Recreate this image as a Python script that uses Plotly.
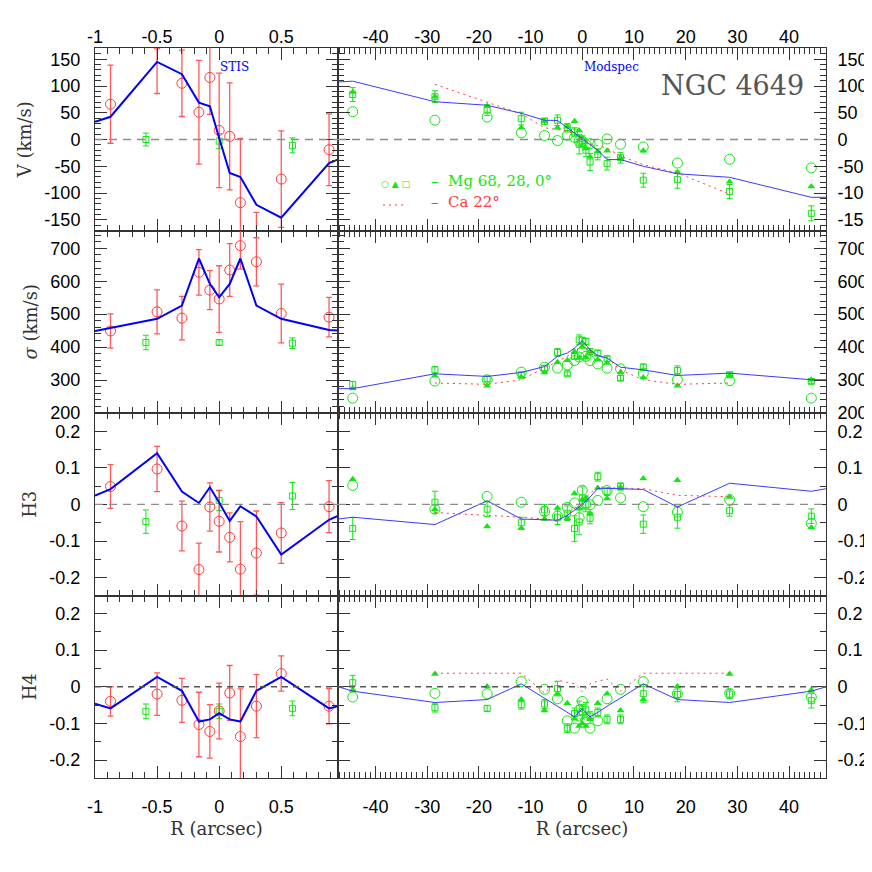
import plotly.graph_objects as go
from plotly.subplots import make_subplots

# ---------------- STIS (left column) ----------------
R_STIS_MODEL = [-1.0, -0.875, -0.5, -0.3, -0.163, -0.075, 0.0, 0.085, 0.171, 0.3, 0.5, 0.885, 0.96]
V_STIS_MODEL = [33, 42.5, 145, 122, 69, 62, 3, -62.5, -70, -122, -146, -44, -37]
S_STIS_MODEL = [449, 458, 486, 526, 669, 592, 551, 592, 669, 526, 486, 452, 450]
H3_STIS_MODEL = [0.024, 0.042, 0.14, 0.035, 0.004, 0.047, 0.005, -0.045, -0.005, -0.033, -0.137, -0.042, -0.031]
H4_STIS_MODEL = [-0.046, -0.059, 0.027, -0.011, -0.095, -0.089, -0.072, -0.089, -0.095, -0.011, 0.027, -0.059, -0.053]

R_STIS = [-0.875, -0.5, -0.3, -0.163, -0.075, 0.0, 0.085, 0.171, 0.3, 0.5, 0.885]
V_STIS = [66, 178, 105, 51, 116, 17, 6, -118, -192, -74, -19]
V_STIS_ERR = [73, 92, 62, 97, 69, 107, 100, 120, 56, 90, 67]
S_STIS = [449, 507, 488, 627, 573, 546, 634, 708, 659, 502, 491]
S_STIS_ERR = [52, 67, 66, 69, 59, 101, 80, 71, 73, 89, 60]
H3_STIS = [0.049, 0.097, -0.059, -0.178, -0.007, -0.046, -0.09, -0.177, -0.133, -0.078, -0.006]
H3_STIS_ERR = [0.06, 0.062, 0.068, 0.072, 0.066, 0.084, 0.067, 0.13, 0.115, 0.083, 0.071]
H4_STIS = [-0.040, -0.020, -0.037, -0.103, -0.122, -0.066, -0.017, -0.136, -0.053, 0.036, -0.053]
H4_STIS_ERR = [0.04, 0.058, 0.06, 0.088, 0.073, 0.076, 0.075, 0.13, 0.086, 0.048, 0.048]

R_GROUND_IN = [-0.59, 0.0, 0.59]
V_GROUND_IN = [0, -3, -11]
V_GROUND_IN_ERR = [12, 14, 14]
S_GROUND_IN = [414, 414, 412]
S_GROUND_IN_ERR = [22, 8, 16]
H3_GROUND_IN = [-0.047, 0.011, 0.023]
H3_GROUND_IN_ERR = [0.032, 0.028, 0.037]
H4_GROUND_IN = [-0.067, -0.067, -0.059]
H4_GROUND_IN_ERR = [0.02, 0.02, 0.02]

# ---------------- Modspec (right column) ----------------
R_MODEL = [-47.2, -44.4, -28.5, -18.4, -11.8, -7.3, -4.8, -2.9, -1.5, 0.0, 1.5, 3.0, 4.8, 7.4, 11.8, 18.4, 28.5, 44.3, 47.2]
V_MODEL = [107.5, 109, 70.6, 64, 49, 36, 35.6, 22, 12, 0, -10, -20, -37.5, -37.5, -50, -64, -70.6, -108, -108]
S_MODEL = [274, 274, 319, 311, 323, 341, 372, 382, 397, 420, 392, 374, 367, 339, 331, 314, 321, 301, 301]
H3_MODEL = [-0.040, -0.035, -0.055, 0.010, -0.040, -0.042, -0.043, -0.03, -0.015, 0.0, 0.02, 0.044, 0.044, 0.043, 0.041, -0.007, 0.058, 0.036, 0.043]
H4_MODEL = [0.0, -0.012, -0.043, -0.035, 0.008, -0.031, -0.053, -0.07, -0.082, -0.06, -0.082, -0.07, -0.053, -0.031, 0.008, -0.035, -0.043, -0.012, 0.0]

R_CA = [-28.5, -18.4, -11.8, -7.3, -4.8, -2.9, -1.5, 0.0, 1.5, 3.0, 4.8, 7.4, 11.8, 18.4, 28.5]
V_CA = [103, 70, 48, 22, 18, 16, 10, 0, -8, -12, -16, -31, -47, -62.5, -102]
S_CA = [291, 287, 301, 336, 355, 372, 385, 407, 385, 372, 367, 331, 301, 287, 291]
H3_CA = [-0.022, -0.029, -0.035, -0.04, -0.046, -0.03, -0.01, 0.01, 0.03, 0.049, 0.046, 0.045, 0.043, 0.025, 0.021]
H4_CA = [0.037, 0.037, 0.037, -0.017, 0.018, 0.012, 0.008, -0.014, 0.008, 0.015, 0.021, -0.012, 0.037, 0.037, 0.037]

R_MOD = [-44.4, -28.5, -18.4, -11.8, -7.3, -4.8, -2.9, -1.5, -0.6, 0.0, 0.7, 1.5, 3.0, 4.8, 7.4, 11.8, 18.4, 28.5, 44.3]
# Mg, PA 68 (open circles)
V_MG68 = [52, 36, 42, 12.5, 7.5, -2, 8, 4, -3, -3, -9, -8, -9, 1, -9, -14, -44, -37, -53]
S_MG68 = [245, 297, 301, 324, 339, 336, 346, 359, 370, 387, 372, 359, 349, 336, 334, 321, 301, 298, 245]
H3_MG68 = [0.052, -0.013, 0.022, 0.006, -0.019, -0.032, -0.008, 0.004, -0.036, 0.039, 0.0, -0.001, 0.011, 0.038, 0.018, -0.006, -0.021, 0.013, -0.052]
H4_MG68 = [-0.028, -0.018, -0.019, 0.014, -0.007, -0.033, -0.093, -0.113, -0.08, -0.040, -0.09, -0.113, -0.093, -0.033, -0.007, 0.014, -0.019, -0.018, -0.028]
# Mg, PA 28 (filled triangles)
V_MG28 = [89, 80, 62, 22, 34, 22, 24, 34, 17, 2, -17, -32, -23, -21, -34, -21, -61, -79, -88]
S_MG28 = [274, 313, 283, 309, 323, 354, 360, 387, 367, 400, 369, 387, 362, 352, 324, 308, 283, 314, 301]
H3_MG28 = [0.069, -0.013, -0.060, -0.065, -0.040, -0.010, -0.038, 0.030, -0.012, 0.013, 0.018, -0.024, 0.045, 0.016, 0.048, 0.071, 0.066, 0.020, -0.063]
H4_MG28 = [-0.009, 0.035, 0.001, -0.035, -0.065, -0.019, -0.045, -0.087, -0.107, -0.1, -0.107, -0.087, -0.045, -0.019, -0.065, -0.035, 0.001, 0.035, -0.009]
# Mg, PA 0 (open squares with errors)
V_MG0 = [84, 80, 55, 39, 34, 36, 22, 14, -9, -3, -20, -42, -28, -45, -34, -76, -75, -97, -138]
V_MG0_ERR = [13, 11, 10, 12, 6, 10, 8, 8, 18, 10, 12, 16, 10, 12, 10, 13, 16, 13, 14]
S_MG0 = [286, 331, 303, 316, 336, 384, 319, 372, 422, 420, 417, 387, 382, 365, 306, 339, 329, 316, 296]
S_MG0_ERR = [10, 10, 8, 8, 8, 12, 6, 8, 15, 10, 10, 8, 8, 8, 8, 10, 14, 8, 6]
H3_MG0 = [-0.066, 0.006, -0.013, -0.050, -0.015, -0.035, -0.024, -0.066, -0.048, 0.018, 0.0, -0.038, 0.076, 0.035, 0.049, -0.054, -0.035, -0.017, -0.032]
H3_MG0_ERR = [0.03, 0.03, 0.02, 0.015, 0.015, 0.02, 0.02, 0.035, 0.035, 0.03, 0.02, 0.015, 0.012, 0.01, 0.01, 0.025, 0.03, 0.015, 0.02]
H4_MG0 = [0.011, -0.057, -0.059, -0.049, -0.047, -0.005, -0.113, -0.073, -0.059, -0.068, -0.063, -0.08, -0.07, -0.089, -0.089, -0.019, -0.021, -0.020, -0.038]
H4_MG0_ERR = [0.02, 0.012, 0.008, 0.012, 0.012, 0.02, 0.012, 0.015, 0.02, 0.02, 0.02, 0.012, 0.012, 0.012, 0.012, 0.025, 0.02, 0.012, 0.02]

RED = '#ff3b3b'
GREEN = '#14e614'
BLUE = '#0000ff'
FRAME = '#333333'

fig = make_subplots(rows=4, cols=2, column_widths=[0.3324, 0.6676],
                    horizontal_spacing=0, vertical_spacing=0)

left_rows = [
    (V_STIS_MODEL, V_STIS, V_STIS_ERR, V_GROUND_IN, V_GROUND_IN_ERR),
    (S_STIS_MODEL, S_STIS, S_STIS_ERR, S_GROUND_IN, S_GROUND_IN_ERR),
    (H3_STIS_MODEL, H3_STIS, H3_STIS_ERR, H3_GROUND_IN, H3_GROUND_IN_ERR),
    (H4_STIS_MODEL, H4_STIS, H4_STIS_ERR, H4_GROUND_IN, H4_GROUND_IN_ERR),
]
right_rows = [
    (V_MODEL, V_CA, V_MG68, V_MG28, V_MG0, V_MG0_ERR),
    (S_MODEL, S_CA, S_MG68, S_MG28, S_MG0, S_MG0_ERR),
    (H3_MODEL, H3_CA, H3_MG68, H3_MG28, H3_MG0, H3_MG0_ERR),
    (H4_MODEL, H4_CA, H4_MG68, H4_MG28, H4_MG0, H4_MG0_ERR),
]

for i, (model, data, err, gdata, gerr) in enumerate(left_rows):
    row = i + 1
    fig.add_trace(go.Scatter(x=R_GROUND_IN, y=gdata, mode='markers',
                             marker=dict(symbol='square-open', size=6, color=GREEN, line=dict(width=1)),
                             error_y=dict(type='data', array=gerr, color=GREEN, thickness=1, width=3)),
                  row=row, col=1)
    fig.add_trace(go.Scatter(x=R_STIS, y=data, mode='markers',
                             marker=dict(symbol='circle-open', size=10, color=RED, line=dict(width=1)),
                             error_y=dict(type='data', array=err, color='rgba(255,59,59,0.85)',
                                          thickness=1.3, width=3)),
                  row=row, col=1)
    fig.add_trace(go.Scatter(x=R_STIS_MODEL, y=model, mode='lines',
                             line=dict(color=BLUE, width=2)),
                  row=row, col=1)

for i, (model, ca, m68, m28, m0, m0err) in enumerate(right_rows):
    row = i + 1
    fig.add_trace(go.Scatter(x=R_MOD, y=m0, mode='markers',
                             marker=dict(symbol='square-open', size=6, color=GREEN, line=dict(width=1)),
                             error_y=dict(type='data', array=m0err, color=GREEN, thickness=1, width=3)),
                  row=row, col=2)
    fig.add_trace(go.Scatter(x=R_MOD, y=m68, mode='markers',
                             marker=dict(symbol='circle-open', size=10, color=GREEN, line=dict(width=1))),
                  row=row, col=2)
    fig.add_trace(go.Scatter(x=R_MOD, y=m28, mode='markers',
                             marker=dict(symbol='triangle-up', size=7, color=GREEN)),
                  row=row, col=2)
    fig.add_trace(go.Scatter(x=R_CA, y=ca, mode='lines',
                             line=dict(color=RED, width=1, dash='2px,4px')),
                  row=row, col=2)
    fig.add_trace(go.Scatter(x=R_MODEL, y=model, mode='lines',
                             line=dict(color='#3a3aff', width=1)),
                  row=row, col=2)

# dashed zero lines
for row in (1, 3, 4):
    for col in (1, 2):
        fig.add_hline(y=0, row=row, col=col,
                      line=dict(color='#555555' if row == 4 else '#8c8c8c', width=1.3,
                                dash='8px,6px' if row != 4 else '6px,5px'))

serif = 'DejaVu Serif, Liberation Serif, serif'
tick_font = dict(family='Liberation Sans, Arial, sans-serif', size=18, color='black')
title_font = dict(family=serif, size=18, color='#333333')

y_cfg = [
    dict(range=[-170, 171], vals=[-150, -100, -50, 0, 50, 100, 150], minor=10, title='V (km/s)'),
    dict(range=[200, 754], vals=[200, 300, 400, 500, 600, 700], minor=20, title='<i>σ</i> (km/s)'),
    dict(range=[-0.249, 0.25], vals=[-0.2, -0.1, 0, 0.1, 0.2], minor=0.05, title='H3'),
    dict(range=[-0.249, 0.249], vals=[-0.2, -0.1, 0, 0.1, 0.2], minor=0.05, title='H4'),
]

def fmt(v):
    return '%g' % v

for i, cfg in enumerate(y_cfg):
    row = i + 1
    for col in (1, 2):
        fig.update_yaxes(range=cfg['range'], tickmode='array', tickvals=cfg['vals'],
                         ticktext=[fmt(v) for v in cfg['vals']],
                         ticks='inside', ticklen=12, tickwidth=1, tickcolor=FRAME,
                         minor=dict(ticks='inside', ticklen=6, tickcolor=FRAME, dtick=cfg['minor'], tick0=0),
                         showline=True, linecolor=FRAME, linewidth=1, mirror='allticks',
                         showgrid=False, zeroline=False, tickfont=tick_font, automargin=False,
                         side='left' if col == 1 else 'right',
                         ticklabelstandoff=10 if col == 1 else 7,
                         row=row, col=col)
    fig.update_yaxes(title=dict(text=cfg['title'], font=title_font, standoff=8), row=row, col=1)

x_cfg = {
    1: dict(range=[-1.0, 0.957], vals=[-1, -0.5, 0, 0.5], minor=0.1),
    2: dict(range=[-47.25, 47.14], vals=[-40, -30, -20, -10, 0, 10, 20, 30, 40], minor=1),
}
for row in range(1, 5):
    for col in (1, 2):
        cfg = x_cfg[col]
        fig.update_xaxes(range=cfg['range'], tickmode='array', tickvals=cfg['vals'],
                         ticktext=[fmt(v) for v in cfg['vals']],
                         ticks='inside', ticklen=12, tickwidth=1, tickcolor=FRAME,
                         minor=dict(ticks='inside', ticklen=6, tickcolor=FRAME, dtick=cfg['minor'], tick0=0),
                         showline=True, linecolor=FRAME, linewidth=1, mirror='allticks',
                         showgrid=False, zeroline=False, tickfont=tick_font, automargin=False,
                         showticklabels=row in (1, 4), side='top' if row == 1 else 'bottom',
                         ticklabelstandoff=12 if row == 4 else -3,
                         row=row, col=col)
for col in (1, 2):
    fig.update_xaxes(title=dict(text='R (arcsec)', font=title_font, standoff=6), row=4, col=col)

annotations = [
    dict(text='STIS', x=0.1915, y=0.974, font=dict(family=serif, size=12, color=BLUE)),
    dict(text='Modspec', x=0.707, y=0.974, font=dict(family=serif, size=12, color=BLUE)),
    dict(text='NGC 4649', x=0.9726, y=0.948, xanchor='right',
         font=dict(family=serif, size=27, color='#555555')),
    dict(text='○ ▲ □', x=0.4104, y=0.8137,
         font=dict(family='DejaVu Sans, sans-serif', size=9, color=GREEN)),
    dict(text='–  Mg 68, 28, 0°', x=0.4569, y=0.8178, xanchor='left',
         font=dict(family=serif, size=15, color=GREEN)),
    dict(text='–  Ca 22°', x=0.4569, y=0.789, xanchor='left',
         font=dict(family=serif, size=15, color=RED)),
]
for a in annotations:
    a.setdefault('xanchor', 'center')
    fig.add_annotation(xref='paper', yref='paper', showarrow=False, yanchor='middle', **a)

fig.add_shape(type='line', xref='paper', yref='paper', x0=0.394, x1=0.4241, y0=0.7849, y1=0.7849,
              line=dict(color=RED, width=1, dash='2px,4px'))

# the page body adds an 8px offset, so the margins are shifted by that amount
fig.update_layout(width=872, height=872, showlegend=False,
                  margin=dict(l=87, r=54, t=40, b=102),
                  paper_bgcolor='white', plot_bgcolor='white')

fig.write_html("out.html")
